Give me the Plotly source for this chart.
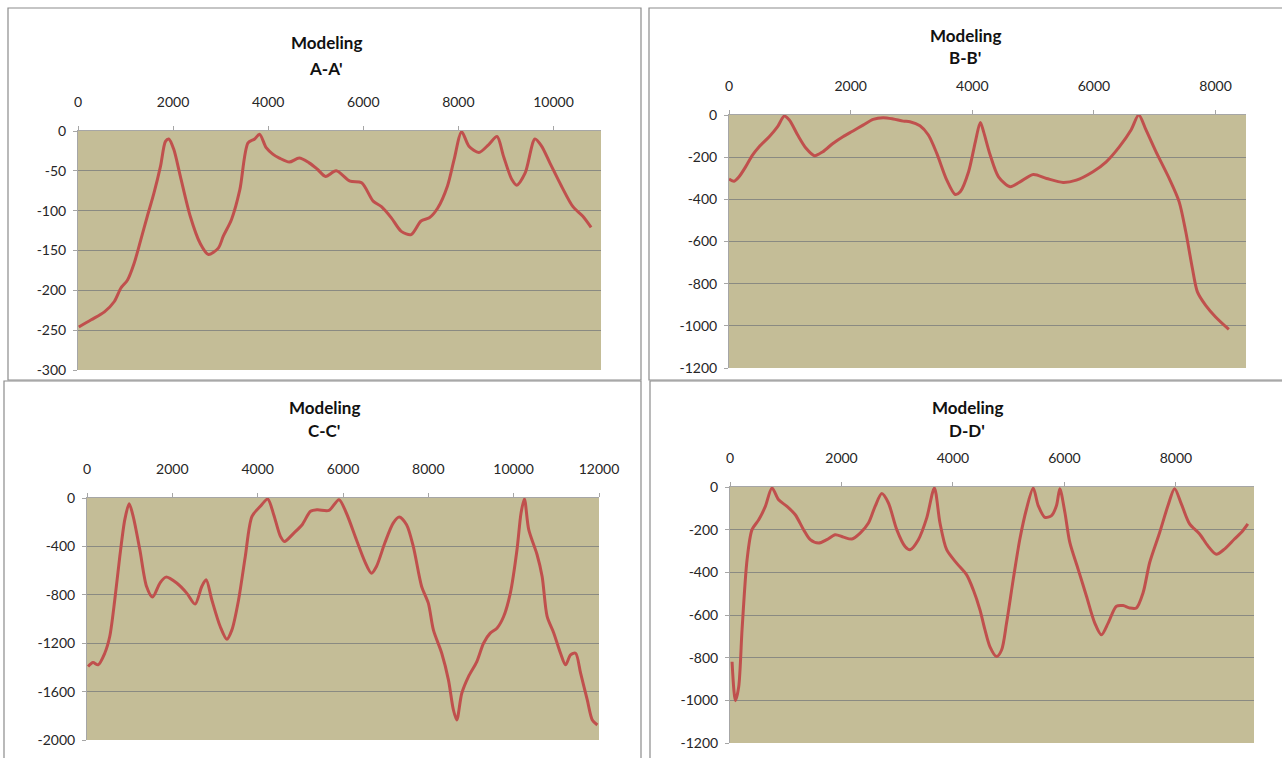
import plotly.graph_objects as go

W, H = 1282, 758

# ---------------- data ----------------
a_x = [17, 278, 556, 764, 903, 1042, 1181, 1319, 1458, 1597, 1736, 1840, 1910, 2014, 2153, 2361,
       2569, 2743, 2951, 3056, 3229, 3403, 3576, 3715, 3819, 3958, 4097, 4236, 4444, 4653, 4861,
       5035, 5208, 5430, 5722, 5965, 6208, 6382, 6590, 6799, 7007, 7215, 7389, 7563, 7771, 7910,
       8069, 8222, 8431, 8639, 8813, 8951, 9125, 9229, 9403, 9611, 9750, 9924, 10167, 10410,
       10618, 10792]
a_y = [-246, -237, -227, -214, -197, -187, -166, -137, -107, -78, -44, -13, -10, -23, -57, -107,
       -141, -155, -147, -132, -111, -74, -15, -10, -4, -21, -29, -34, -39, -34, -40,
       -48, -57, -50, -63, -65, -88, -95, -109, -126, -130, -113, -109, -97, -69, -36,
       -1, -19, -27, -17, -7, -32, -61, -68, -53, -10, -19, -40, -69, -95,
       -107, -121]

b_x = [0, 83, 165, 275, 386, 496, 661, 799, 909, 992, 1129, 1267, 1405, 1543, 1708, 1873, 2039,
       2204, 2369, 2534, 2700, 2865, 2975, 3140, 3278, 3416, 3581, 3719, 3802, 3939, 4050, 4132,
       4185, 4294, 4431, 4621, 4785, 5003, 5221, 5493, 5711, 5984, 6202, 6420, 6610, 6736, 6856,
       7019, 7237, 7401, 7510, 7619, 7701, 7837, 8000, 8218]
b_y = [-304, -314, -293, -245, -190, -150, -103, -55, -5, -24, -95, -158, -193, -174, -135, -103,
       -76, -48, -21, -13, -19, -29, -32, -51, -95, -182, -309, -377, -364, -269, -127, -35,
       -79, -190, -293, -340, -317, -282, -301, -320, -309, -269, -222, -150, -71, 0, -71,
       -174, -301, -412, -554, -728, -839, -903, -958, -1017]

c_x = [24, 141, 259, 416, 533, 651, 769, 886, 988, 1082, 1239, 1396, 1537, 1710, 1851, 2102, 2337,
       2533, 2690, 2792, 2925, 3122, 3278, 3396, 3553, 3710, 3867, 4063, 4235, 4376, 4533, 4627,
       4847, 5043, 5239, 5396, 5671, 5906, 6078, 6314, 6510, 6667, 6784, 6980, 7176, 7318, 7490,
       7647, 7843, 8000, 8118, 8314, 8471, 8588, 8667, 8784, 8941, 9137, 9294, 9451, 9608, 9765,
       9922, 10078, 10173, 10251, 10353, 10549, 10667, 10784, 10941, 11098, 11216, 11333, 11451,
       11569, 11725, 11843, 11961]
c_y = [-1393, -1360, -1379, -1283, -1145, -841, -483, -179, -47, -152, -428, -731, -819, -703, -654,
       -703, -786, -877, -731, -676, -841, -1062, -1167, -1090, -841, -483, -152, -69, -8, -138,
       -317, -359, -290, -221, -110, -97, -102, -14, -124, -345, -524, -621, -566, -372, -207,
       -157, -221, -400, -731, -869, -1090, -1283, -1503, -1752, -1834, -1614, -1476, -1352,
       -1200, -1117, -1076, -979, -786, -428, -124, -8, -262, -469, -648, -979, -1117, -1283,
       -1379, -1297, -1283, -1448, -1669, -1834, -1876]

d_x = [37, 97, 156, 216, 306, 395, 515, 634, 753, 872, 1022, 1171, 1320, 1440, 1589, 1738, 1887,
       2036, 2186, 2335, 2484, 2603, 2723, 2842, 2991, 3140, 3230, 3379, 3528, 3666, 3767, 3887,
       4065, 4245, 4364, 4483, 4573, 4662, 4782, 4872, 4961, 5081, 5200, 5320, 5439, 5529, 5648,
       5768, 5857, 5917, 6007, 6096, 6246, 6395, 6544, 6663, 6783, 6932, 7052, 7171, 7290, 7410,
       7529, 7708, 7857, 7976, 8096, 8245, 8424, 8573, 8722, 8871, 9050, 9199, 9289]
d_y = [-819, -1002, -937, -670, -341, -200, -154, -91, -5, -60, -91, -130, -200, -247, -263, -247,
       -224, -235, -244, -216, -169, -91, -31, -75, -200, -279, -294, -247, -146, -5, -169, -294,
       -357, -412, -482, -575, -669, -748, -795, -764, -638, -433, -244, -102, -5, -87, -142,
       -134, -87, -8, -118, -260, -386, -512, -638, -693, -638, -559, -556, -567, -567, -496,
       -354, -213, -87, -8, -79, -173, -220, -276, -315, -291, -244, -205, -173]

titles = ["A-A'", "B-B'", "C-C'", "D-D'"]
x_ranges = [[0, 11000], [0, 8500], [0, 12000], [0, 9400]]
x_ticks = [[0, 2000, 4000, 6000, 8000, 10000], [0, 2000, 4000, 6000, 8000],
           [0, 2000, 4000, 6000, 8000, 10000, 12000], [0, 2000, 4000, 6000, 8000]]
y_ticks = [[0, -50, -100, -150, -200, -250, -300],
           [0, -200, -400, -600, -800, -1000, -1200],
           [0, -400, -800, -1200, -1600, -2000],
           [0, -200, -400, -600, -800, -1000, -1200]]
y_ranges = [[-300, 0], [-1200, 0], [-2000, 0], [-1200, 0]]

# ---------------- layout geometry (pixels) ----------------
plot_px = [  # left, right, top, bottom
    (78, 601, 131, 370),
    (729, 1246, 115, 368),
    (87, 599, 498, 740),
    (730, 1254, 487, 743),
]
title_px = [(326, 42, 68), (965, 35, 58), (324, 407, 430), (967, 407, 430)]
frames_px = [(8, 8, 641, 380), (649, 8, 1290, 380), (4, 381, 641, 770), (650, 381, 1290, 770)]

LINE = "#C0504D"
BG = "#C4BD97"
GRID = "#8A8A82"
AXIS = "#A6A6A6"
TXT = "#262626"
FONT = "Lato, 'Open Sans', sans-serif"

fig = go.Figure()
series = [(a_x, a_y), (b_x, b_y), (c_x, c_y), (d_x, d_y)]
layout = {}
shapes = []
annotations = []
for i, ((xs, ys), (l, r, t, b)) in enumerate(zip(series, plot_px)):
    n = "" if i == 0 else str(i + 1)
    fig.add_trace(go.Scatter(x=xs, y=ys, mode="lines", xaxis="x" + n, yaxis="y" + n,
                             line=dict(color=LINE, width=3, shape="spline", smoothing=0.8),
                             showlegend=False, hoverinfo="x+y"))
    layout["xaxis" + n] = dict(
        domain=[l / W, r / W], anchor="y" + n, side="top", range=x_ranges[i],
        tickmode="array", tickvals=x_ticks[i], ticktext=[str(v) for v in x_ticks[i]],
        showgrid=False, zeroline=False, automargin=False,
        showline=True, linecolor=AXIS, linewidth=1, ticks="outside", ticklen=4,
        tickcolor=AXIS, tickfont=dict(family=FONT, size=14, color=TXT),
        ticklabelstandoff=13, fixedrange=True)
    layout["yaxis" + n] = dict(
        domain=[1 - b / H, 1 - t / H], anchor="x" + n, range=y_ranges[i],
        tickmode="array", tickvals=y_ticks[i], ticktext=[str(v) for v in y_ticks[i]],
        showgrid=True, gridcolor=GRID, gridwidth=1, automargin=False,
        zeroline=False, showline=True, linecolor=AXIS, linewidth=1, ticks="outside",
        ticklen=4, tickcolor=AXIS, tickfont=dict(family=FONT, size=14, color=TXT),
        ticklabelstandoff=4, fixedrange=True)
    shapes.append(dict(type="rect", xref="paper", yref="paper", x0=l / W, x1=r / W,
                       y0=1 - b / H, y1=1 - t / H, fillcolor=BG, line=dict(width=0),
                       layer="below"))
    fx0, fy0, fx1, fy1 = frames_px[i]
    shapes.append(dict(type="rect", xref="paper", yref="paper", x0=fx0 / W, x1=fx1 / W,
                       y0=1 - fy1 / H, y1=1 - fy0 / H, line=dict(color="#8C8C8C", width=1.2),
                       fillcolor="rgba(0,0,0,0)", layer="below"))
    cx, y1, y2 = title_px[i]
    annotations.append(dict(x=cx / W, y=1 - y1 / H, xref="paper", yref="paper",
                            text="<b>Modeling</b>", showarrow=False, xanchor="center",
                            yanchor="middle", font=dict(family=FONT, size=17, color="#111111")))
    annotations.append(dict(x=cx / W, y=1 - y2 / H, xref="paper", yref="paper",
                            text="<b>" + titles[i] + "</b>", showarrow=False, xanchor="center",
                            yanchor="middle", font=dict(family=FONT, size=17, color="#111111")))

fig.update_layout(
    width=W, height=H, margin=dict(l=0, r=0, t=0, b=0, autoexpand=False),
    paper_bgcolor="white", plot_bgcolor="rgba(0,0,0,0)",
    shapes=shapes, annotations=annotations, showlegend=False,
    **layout)

fig.write_html("out.html", config={"displayModeBar": False})
